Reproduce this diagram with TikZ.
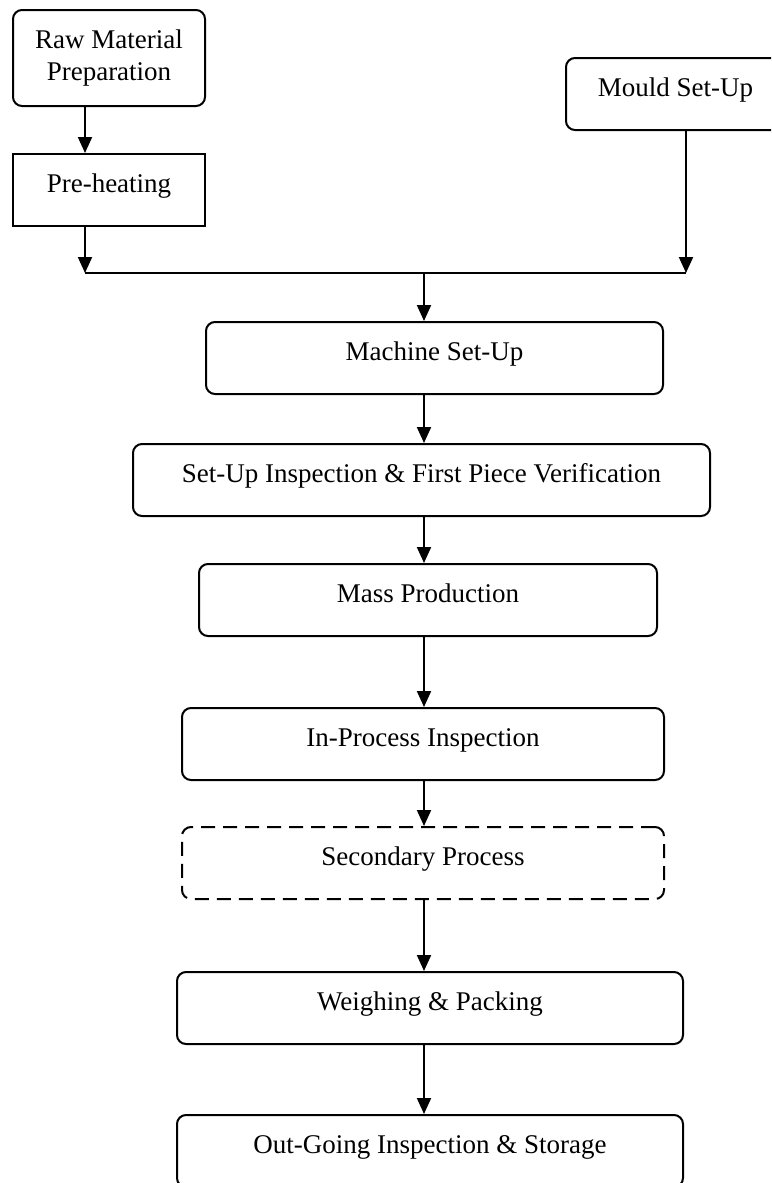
\documentclass[tikz,border=0pt]{standalone}
\usepackage{fontspec}
\setmainfont{Liberation Serif}
\usetikzlibrary{arrows.meta}
\begin{document}
\begin{tikzpicture}[x=1pt,y=-1pt,line width=2pt,
  boxbase/.style={draw, anchor=north west, inner xsep=0pt, inner ysep=0pt,
    font=\fontsize{27}{32}\selectfont},
  box/.style={boxbase, rounded corners=9pt, text height=38pt, text depth=34pt},
  sqbox/.style={boxbase, text height=38pt, text depth=34pt},
  dbox/.style={box, dash pattern=on 14pt off 8pt},
  twobox/.style={boxbase, rounded corners=9pt, align=center, minimum height=96pt},
  arr/.style={-{Triangle[width=14pt,length=16pt]}}]
\clip (0,0) rectangle (771,1183);
% boxes
\node[twobox, minimum width=192pt] (raw) at (12,9) {Raw Material\\Preparation};
\node[sqbox, minimum width=192pt] (pre) at (12,153) {Pre-heating};
\node[box, minimum width=219pt] (mould) at (565,57) {Mould Set-Up};
\node[box, minimum width=457pt] (mach) at (205,321) {Machine Set-Up};
\node[box, minimum width=577pt] (sui) at (132,443) {Set-Up Inspection \& First Piece Verification};
\node[box, minimum width=458pt] (mass) at (198,563) {Mass Production};
\node[box, minimum width=482pt] (ipi) at (181,707) {In-Process Inspection};
\node[dbox, minimum width=482pt] (sec) at (181,826) {Secondary Process};
\node[box, minimum width=506pt] (wp) at (176,971) {Weighing \& Packing};
\node[box, minimum width=506pt] (out) at (176,1114) {Out-Going Inspection \& Storage};
% helper coordinates
\coordinate (lx) at (85,0);
\coordinate (rx) at (686,0);
\coordinate (sx) at (424,0);
\coordinate (mL) at (85,273);
\coordinate (mR) at (686,273);
\coordinate (mC) at (424,273);
% connectors
\draw[arr] (lx |- raw.south) -- (lx |- pre.north);
\draw[arr] (lx |- pre.south) -- (mL);
\draw[arr] (rx |- mould.south) -- (mR);
\draw (mL) -- (mR);
\draw[arr] (mC) -- (sx |- mach.north);
\draw[arr] (sx |- mach.south) -- (sx |- sui.north);
\draw[arr] (sx |- sui.south) -- (sx |- mass.north);
\draw[arr] (sx |- mass.south) -- (sx |- ipi.north);
\draw[arr] (sx |- ipi.south) -- (sx |- sec.north);
\draw[arr] (sx |- sec.south) -- (sx |- wp.north);
\draw[arr] (sx |- wp.south) -- (sx |- out.north);
\end{tikzpicture}
\end{document}
